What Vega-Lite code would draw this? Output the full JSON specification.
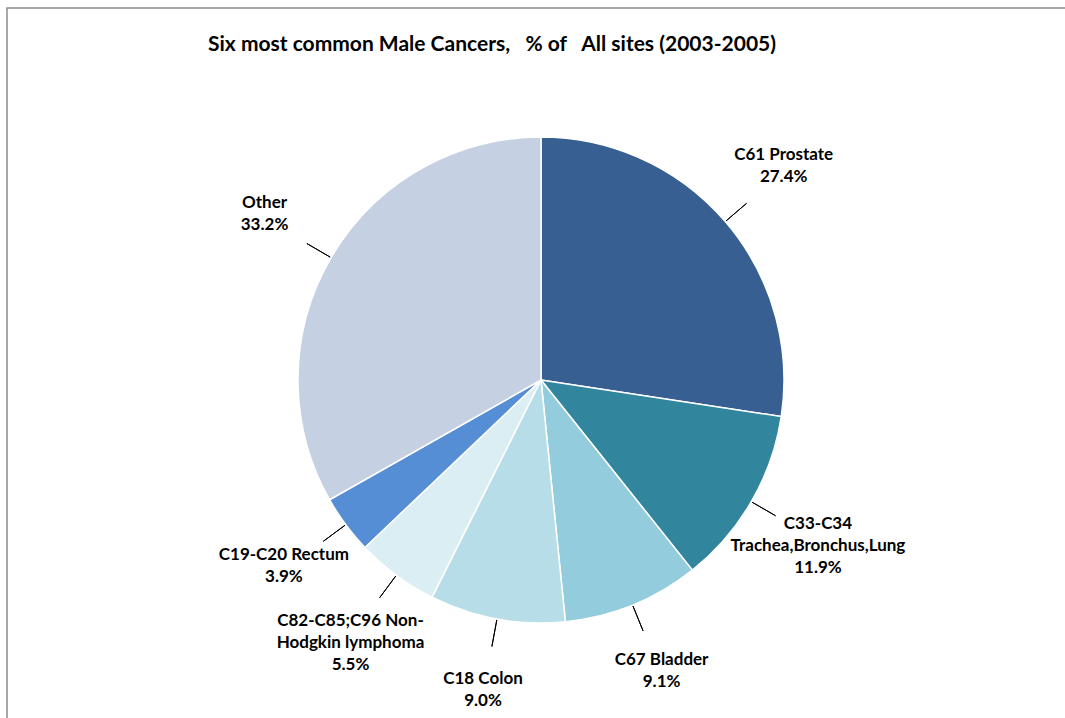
{
  "$schema": "https://vega.github.io/schema/vega-lite/v6.json",
  "autosize": "none",
  "width": 1068,
  "height": 744,
  "padding": {"left": 7, "top": 8, "right": 0, "bottom": 0},
  "background": "white",
  "view": {"stroke": "#8a8a8a", "strokeWidth": 1.5},
  "title": {
    "text": "Six most common Male Cancers,\u00a0\u00a0 % of\u00a0\u00a0 All sites (2003-2005)",
    "anchor": "middle",
    "dx": -49,
    "offset": -47,
    "font": "Lato",
    "fontSize": 21,
    "fontWeight": "bold",
    "color": "black"
  },
  "data": {
    "values": [
      {"rank": 1, "site": "C61 Prostate", "value": 27.4, "label": ["C61 Prostate", "27.4%"]},
      {"rank": 2, "site": "C33-C34 Trachea,Bronchus,Lung", "value": 11.9, "label": ["C33-C34", "Trachea,Bronchus,Lung", "11.9%"]},
      {"rank": 3, "site": "C67 Bladder", "value": 9.1, "label": ["C67 Bladder", "9.1%"]},
      {"rank": 4, "site": "C18 Colon", "value": 9.0, "label": ["C18 Colon", "9.0%"]},
      {"rank": 5, "site": "C82-C85;C96 Non-Hodgkin lymphoma", "value": 5.5, "label": ["C82-C85;C96 Non-", "Hodgkin lymphoma", "5.5%"]},
      {"rank": 6, "site": "C19-C20 Rectum", "value": 3.9, "label": ["C19-C20 Rectum", "3.9%"]},
      {"rank": 7, "site": "Other", "value": 33.2, "label": ["Other", "33.2%"]}
    ]
  },
  "encoding": {
    "theta": {"field": "value", "type": "quantitative", "stack": true},
    "order": {"field": "rank", "type": "quantitative"}
  },
  "layer": [
    {
      "mark": {"type": "arc", "outerRadius": 243, "stroke": "white", "strokeWidth": 1.5},
      "encoding": {
        "color": {
          "field": "site",
          "type": "nominal",
          "legend": null,
          "sort": null,
          "scale": {
            "domain": ["C61 Prostate", "C33-C34 Trachea,Bronchus,Lung", "C67 Bladder", "C18 Colon", "C82-C85;C96 Non-Hodgkin lymphoma", "C19-C20 Rectum", "Other"],
            "range": ["#375F91", "#31859C", "#93CDDD", "#B7DEE8", "#DBEEF4", "#558ED5", "#C5D0E3"]
          }
        }
      }
    },
    {
      "mark": {"type": "arc", "innerRadius": 244, "outerRadius": 271, "padAngle": 3, "fill": "white", "fillOpacity": 0, "stroke": "black", "strokeWidth": 1},
      "encoding": {}
    },
    {
      "mark": {"type": "text", "radius": 320, "dy": -16, "font": "Lato", "fontSize": 17, "fontWeight": "bold", "lineHeight": 22, "align": "center", "baseline": "middle", "color": "black"},
      "encoding": {"text": {"field": "label"}}
    }
  ]
}
